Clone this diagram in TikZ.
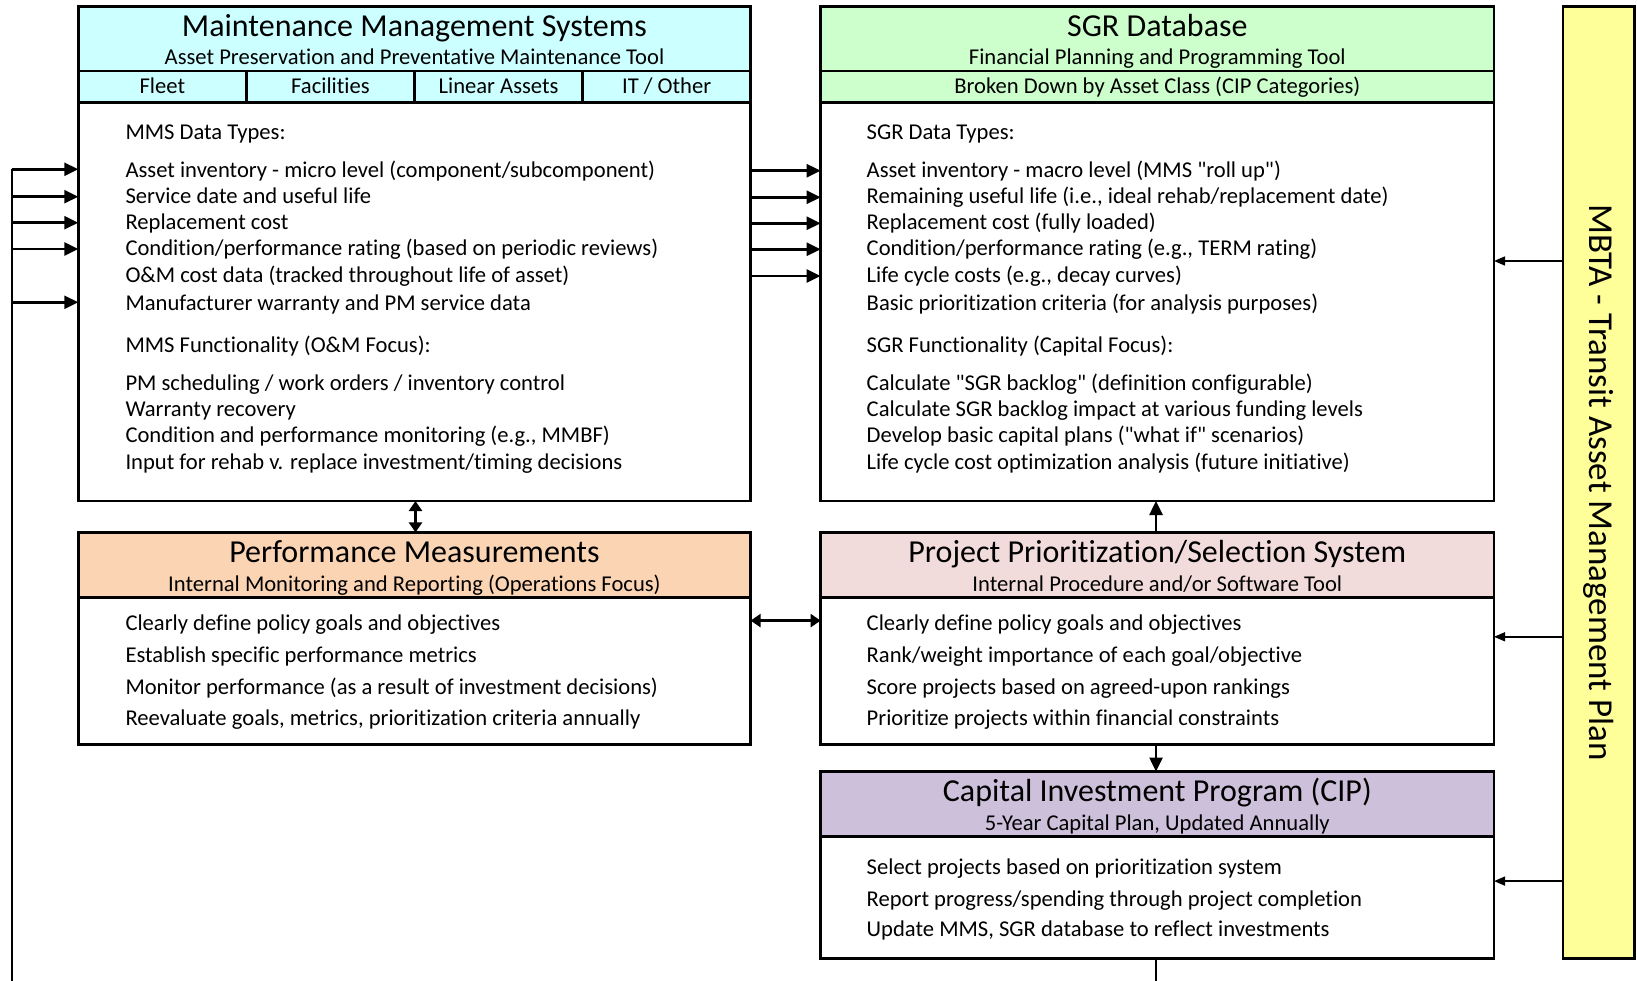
\documentclass[tikz,border=0pt]{standalone}
\usepackage{fontspec}
\setmainfont{Carlito}[Ligatures={TeX,NoCommon}]
\usetikzlibrary{arrows.meta}
\definecolor{mmsc}{RGB}{204,255,255}
\definecolor{sgrc}{RGB}{204,255,204}
\definecolor{perfc}{RGB}{251,212,180}
\definecolor{ppsc}{RGB}{242,220,219}
\definecolor{cipc}{RGB}{204,192,218}
\definecolor{yelc}{RGB}{255,255,153}
\newcommand{\qd}{\textquotedbl}
\begin{document}
\begin{tikzpicture}[x=1pt,y=-1pt,
  boxr/.style={draw, line width=2.6pt, anchor=north west, inner sep=0pt, outer sep=0pt, fill=white},
  ttl/.style={anchor=base, inner sep=0pt, font=\fontsize{32}{36}\selectfont},
  sub/.style={anchor=base, inner sep=0pt, font=\fontsize{22.6}{26}\selectfont},
  txt/.style={anchor=base west, inner sep=0pt, font=\fontsize{22.6}{26}\selectfont},
  arr/.style={line width=2.6pt, -{Triangle[length=14pt,width=13pt]}},
  darr/.style={line width=2.6pt, {Triangle[length=10pt,width=13pt]}-{Triangle[length=10pt,width=13pt]}},
  tarr/.style={line width=1.4pt, -{Triangle[length=11pt,width=9pt]}},
  plain/.style={line width=2pt}]
\useasboundingbox (0,0) rectangle (1637,981);

% ---------- MMS ----------
\node[boxr, minimum width=672.3pt, minimum height=494.7pt] (mms) at (78.3,6.3) {};
\node[boxr, fill=mmsc, minimum width=672.3pt, minimum height=64.7pt] (mmsh) at (78.3,6.3) {};
\node[boxr, fill=mmsc, minimum width=168.1pt, minimum height=31.3pt] (c1) at (78.3,71) {};
\node[boxr, fill=mmsc, minimum width=168.1pt, minimum height=31.3pt] (c2) at (246.4,71) {};
\node[boxr, fill=mmsc, minimum width=168.1pt, minimum height=31.3pt] (c3) at (414.5,71) {};
\node[boxr, fill=mmsc, minimum width=168.1pt, minimum height=31.3pt] (c4) at (582.6,71) {};
\node[ttl] (mmst) at (414.45,36.2) {Maintenance Management Systems};
\node[sub] (mmss) at (414.45,64.6) {Asset Preservation and Preventative Maintenance Tool};
\node[sub] at (c1.center |- 0,93.9) {Fleet};
\node[sub] at (c2.center |- 0,93.9) {Facilities};
\node[sub] at (c3.center |- 0,93.9) {Linear Assets};
\node[sub] at (c4.center |- 0,93.9) {IT / Other};
\node[txt] (m0) at (125.3,139.8) {MMS Data Types:};
\node[txt] (m1) at (125.3,177.4) {Asset inventory - micro level (component/subcomponent)};
\node[txt] (m2) at (125.3,203.5) {Service date and useful life};
\node[txt] (m3) at (125.3,229.6) {Replacement cost};
\node[txt] (m4) at (125.3,255.7) {Condition/performance rating (based on periodic reviews)};
\node[txt] (m5) at (125.3,282.8) {O\&M cost data (tracked throughout life of asset)};
\node[txt] (m6) at (125.3,311) {Manufacturer warranty and PM service data};
\node[txt] (m7) at (125.3,352.8) {MMS Functionality (O\&M Focus):};
\node[txt] (m8) at (125.3,390.3) {PM scheduling / work orders / inventory control};
\node[txt] (m9) at (125.3,416.4) {Warranty recovery};
\node[txt] (m10) at (125.3,442.5) {Condition and performance monitoring (e.g., MMBF)};
\node[txt] (m11) at (125.3,469.7) {Input for rehab v. replace investment/timing decisions};

% ---------- SGR ----------
\node[boxr, minimum width=673.4pt, minimum height=494.7pt] (sgr) at (820.6,6.3) {};
\node[boxr, fill=sgrc, minimum width=673.4pt, minimum height=64.7pt] (sgrh) at (820.6,6.3) {};
\node[boxr, fill=sgrc, minimum width=673.4pt, minimum height=31.3pt] (sgrb) at (820.6,71) {};
\node[ttl] (sgrt) at (1157.3,36.2) {SGR Database};
\node[sub] (sgrs) at (1157.3,64.6) {Financial Planning and Programming Tool};
\node[sub] (sgrbt) at (1157.3,93.9) {Broken Down by Asset Class (CIP Categories)};
\node[txt] (s0) at (866.5,139.8) {SGR Data Types:};
\node[txt] (s1) at (866.5,177.4) {Asset inventory - macro level (MMS \qd roll up\qd)};
\node[txt] (s2) at (866.5,203.5) {Remaining useful life (i.e., ideal rehab/replacement date)};
\node[txt] (s3) at (866.5,229.6) {Replacement cost (fully loaded)};
\node[txt] (s4) at (866.5,255.7) {Condition/performance rating (e.g., TERM rating)};
\node[txt] (s5) at (866.5,282.8) {Life cycle costs (e.g., decay curves)};
\node[txt] (s6) at (866.5,311) {Basic prioritization criteria (for analysis purposes)};
\node[txt] (s7) at (866.5,352.8) {SGR Functionality (Capital Focus):};
\node[txt] (s8) at (866.5,390.3) {Calculate \qd SGR backlog\qd{} (definition configurable)};
\node[txt] (s9) at (866.5,416.4) {Calculate SGR backlog impact at various funding levels};
\node[txt] (s10) at (866.5,442.5) {Develop basic capital plans (\qd what if\qd{} scenarios)};
\node[txt] (s11) at (866.5,469.7) {Life cycle cost optimization analysis (future initiative)};

% ---------- Performance ----------
\node[boxr, minimum width=672.3pt, minimum height=212pt] (perf) at (78.3,532.4) {};
\node[boxr, fill=perfc, minimum width=672.3pt, minimum height=64.8pt] (perfh) at (78.3,532.4) {};
\node[ttl] (perft) at (414.45,562.4) {Performance Measurements};
\node[sub] (perfs) at (414.45,591.8) {Internal Monitoring and Reporting (Operations Focus)};
\node[txt] (p1) at (125.3,630.5) {Clearly define policy goals and objectives};
\node[txt] (p2) at (125.3,662.8) {Establish specific performance metrics};
\node[txt] (p3) at (125.3,694.2) {Monitor performance (as a result of investment decisions)};
\node[txt] (p4) at (125.3,725.5) {Reevaluate goals, metrics, prioritization criteria annually};

% ---------- PPSS ----------
\node[boxr, minimum width=673.4pt, minimum height=212pt] (pps) at (820.6,532.4) {};
\node[boxr, fill=ppsc, minimum width=673.4pt, minimum height=64.8pt] (ppsh) at (820.6,532.4) {};
\node[ttl] (ppst) at (1157.3,562.4) {Project Prioritization/Selection System};
\node[sub] (ppss) at (1157.3,591.8) {Internal Procedure and/or Software Tool};
\node[txt] (q1) at (866.5,630.5) {Clearly define policy goals and objectives};
\node[txt] (q2) at (866.5,662.8) {Rank/weight importance of each goal/objective};
\node[txt] (q3) at (866.5,694.2) {Score projects based on agreed-upon rankings};
\node[txt] (q4) at (866.5,725.5) {Prioritize projects within financial constraints};

% ---------- CIP ----------
\node[boxr, minimum width=673.4pt, minimum height=186.9pt] (cip) at (820.6,771.5) {};
\node[boxr, fill=cipc, minimum width=673.4pt, minimum height=64.7pt] (ciph) at (820.6,771.5) {};
\node[ttl] (cipt) at (1157.3,801.5) {Capital Investment Program (CIP)};
\node[sub] (cips) at (1157.3,830.9) {5-Year Capital Plan, Updated Annually};
\node[txt] (k1) at (866.5,874.8) {Select projects based on prioritization system};
\node[txt] (k2) at (866.5,906.1) {Report progress/spending through project completion};
\node[txt] (k3) at (866.5,936.4) {Update MMS, SGR database to reflect investments};

% ---------- Yellow ----------
\node[boxr, fill=yelc, minimum width=71.6pt, minimum height=952.1pt] (yel) at (1562.9,6.3) {};
\node[rotate=-90, inner sep=0pt, font=\fontsize{35}{40}\selectfont] (yelt) at (yel.center) {MBTA - Transit Asset Management Plan};

% ---------- connectors ----------
\coordinate (l1) at (11.5,169.3);
\coordinate (l2) at (11.5,196.7);
\coordinate (l3) at (11.5,222.7);
\coordinate (l4) at (11.5,249);
\coordinate (l6) at (11.5,302.3);
\coordinate (lb) at (11.5,981);
\draw[plain] (l1) -- (lb);
\foreach \c in {l1,l2,l3,l4,l6} \draw[arr] (\c) -- (\c -| mms.west);

\foreach \y [count=\i] in {170.7,197.3,223.3,249.3,276} {
  \coordinate (r\i) at (0,\y);
  \draw[arr] (mms.east |- r\i) -- (sgr.west |- r\i);
}

\coordinate (y1) at (0,261);
\coordinate (y2) at (0,636.8);
\coordinate (y3) at (0,881.1);
\draw[tarr] (yel.west |- y1) -- (sgr.east |- y1);
\draw[tarr] (yel.west |- y2) -- (pps.east |- y2);
\draw[tarr] (yel.west |- y3) -- (cip.east |- y3);

\coordinate (dv) at (415.5,0);
\draw[darr] (mms.south -| dv) -- (perf.north -| dv);
\coordinate (dh) at (0,620.6);
\draw[darr] (perf.east |- dh) -- (pps.west |- dh);
\coordinate (cv) at (1156,0);
\coordinate (cb) at (1156,981);
\draw[arr] (pps.north -| cv) -- (sgr.south -| cv);
\draw[arr] (pps.south -| cv) -- (cip.north -| cv);
\draw[plain] (cip.south -| cv) -- (cb);
\end{tikzpicture}
\end{document}
